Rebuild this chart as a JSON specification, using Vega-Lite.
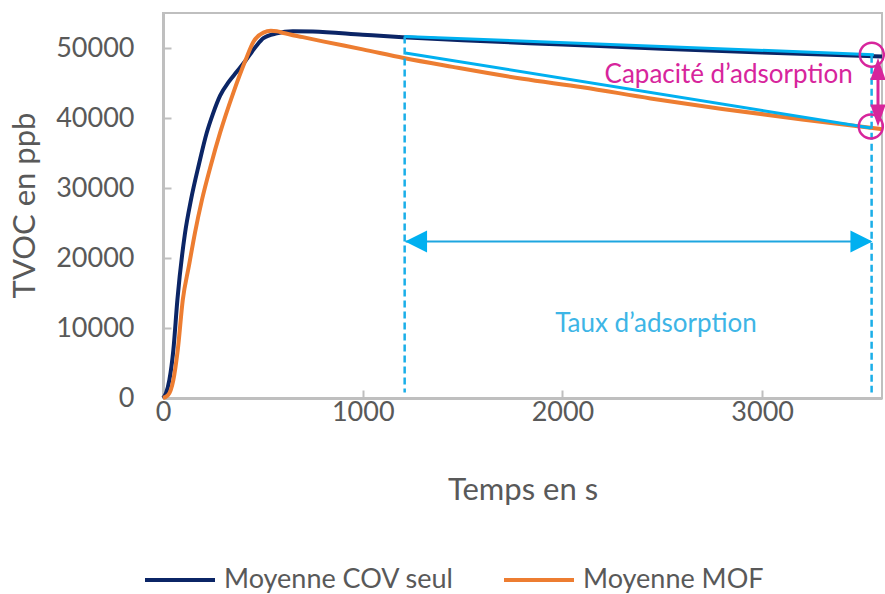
{
  "$schema": "https://vega.github.io/schema/vega-lite/v6.json",
  "width": 719,
  "height": 385,
  "autosize": {"type": "none"},
  "padding": {"left": 163, "top": 13, "right": 3, "bottom": 196},
  "background": "white",
  "config": {
    "font": "Lato",
    "view": {"stroke": "#bfbfbf", "strokeWidth": 2},
    "axis": {
      "grid": false,
      "domainColor": "#bfbfbf",
      "domainWidth": 3,
      "tickColor": "#bfbfbf",
      "tickWidth": 2,
      "tickSize": -8,
      "labelFlush": false,
      "labelFontSize": 27,
      "labelColor": "#595959",
      "titleFontSize": 31,
      "titleColor": "#595959",
      "titleFontWeight": "normal"
    }
  },
  "datasets": {
    "curves": [
      {"t": 0, "v": 0, "serie": "Moyenne COV seul"},
      {"t": 15, "v": 700, "serie": "Moyenne COV seul"},
      {"t": 32, "v": 2600, "serie": "Moyenne COV seul"},
      {"t": 52, "v": 6900, "serie": "Moyenne COV seul"},
      {"t": 72, "v": 14000, "serie": "Moyenne COV seul"},
      {"t": 110, "v": 23500, "serie": "Moyenne COV seul"},
      {"t": 140, "v": 28300, "serie": "Moyenne COV seul"},
      {"t": 180, "v": 33400, "serie": "Moyenne COV seul"},
      {"t": 219, "v": 37900, "serie": "Moyenne COV seul"},
      {"t": 250, "v": 40600, "serie": "Moyenne COV seul"},
      {"t": 286, "v": 43200, "serie": "Moyenne COV seul"},
      {"t": 330, "v": 45200, "serie": "Moyenne COV seul"},
      {"t": 369, "v": 46600, "serie": "Moyenne COV seul"},
      {"t": 411, "v": 48100, "serie": "Moyenne COV seul"},
      {"t": 436, "v": 49100, "serie": "Moyenne COV seul"},
      {"t": 470, "v": 50400, "serie": "Moyenne COV seul"},
      {"t": 503, "v": 51400, "serie": "Moyenne COV seul"},
      {"t": 570, "v": 52100, "serie": "Moyenne COV seul"},
      {"t": 650, "v": 52400, "serie": "Moyenne COV seul"},
      {"t": 750, "v": 52350, "serie": "Moyenne COV seul"},
      {"t": 1000, "v": 51900, "serie": "Moyenne COV seul"},
      {"t": 1200, "v": 51550, "serie": "Moyenne COV seul"},
      {"t": 1500, "v": 51100, "serie": "Moyenne COV seul"},
      {"t": 2000, "v": 50500, "serie": "Moyenne COV seul"},
      {"t": 2500, "v": 49900, "serie": "Moyenne COV seul"},
      {"t": 3000, "v": 49350, "serie": "Moyenne COV seul"},
      {"t": 3600, "v": 48800, "serie": "Moyenne COV seul"},
      {"t": 0, "v": 0, "serie": "Moyenne MOF"},
      {"t": 25, "v": 400, "serie": "Moyenne MOF"},
      {"t": 52, "v": 2600, "serie": "Moyenne MOF"},
      {"t": 74, "v": 6900, "serie": "Moyenne MOF"},
      {"t": 99, "v": 14000, "serie": "Moyenne MOF"},
      {"t": 130, "v": 18900, "serie": "Moyenne MOF"},
      {"t": 160, "v": 23600, "serie": "Moyenne MOF"},
      {"t": 195, "v": 28300, "serie": "Moyenne MOF"},
      {"t": 240, "v": 33300, "serie": "Moyenne MOF"},
      {"t": 286, "v": 37900, "serie": "Moyenne MOF"},
      {"t": 352, "v": 43600, "serie": "Moyenne MOF"},
      {"t": 411, "v": 48100, "serie": "Moyenne MOF"},
      {"t": 453, "v": 50900, "serie": "Moyenne MOF"},
      {"t": 503, "v": 52200, "serie": "Moyenne MOF"},
      {"t": 540, "v": 52450, "serie": "Moyenne MOF"},
      {"t": 570, "v": 52400, "serie": "Moyenne MOF"},
      {"t": 603, "v": 52150, "serie": "Moyenne MOF"},
      {"t": 700, "v": 51550, "serie": "Moyenne MOF"},
      {"t": 800, "v": 50950, "serie": "Moyenne MOF"},
      {"t": 1000, "v": 49800, "serie": "Moyenne MOF"},
      {"t": 1205, "v": 48570, "serie": "Moyenne MOF"},
      {"t": 1450, "v": 47300, "serie": "Moyenne MOF"},
      {"t": 1800, "v": 45600, "serie": "Moyenne MOF"},
      {"t": 2100, "v": 44400, "serie": "Moyenne MOF"},
      {"t": 2441, "v": 42800, "serie": "Moyenne MOF"},
      {"t": 2800, "v": 41300, "serie": "Moyenne MOF"},
      {"t": 3200, "v": 39800, "serie": "Moyenne MOF"},
      {"t": 3600, "v": 38400, "serie": "Moyenne MOF"}
    ],
    "cyanLines": [
      {"t": 1208, "v": 51660, "t2": 3559, "v2": 49040},
      {"t": 1213, "v": 49290, "t2": 3544, "v2": 38570}
    ],
    "dashLines": [
      {"t": 1210, "v": 51660, "t2": 1210, "v2": 800},
      {"t": 3548, "v": 48900, "t2": 3548, "v2": 800}
    ],
    "arrowLine": [
      {"t": 1215, "v": 22370, "t2": 3545, "v2": 22370}
    ],
    "pinkLine": [
      {"t": 3580, "v": 47000, "t2": 3580, "v2": 40360}
    ],
    "cyanHeads": [
      {"t": 1267, "v": 22370, "dir": "left"},
      {"t": 3497, "v": 22370, "dir": "right"}
    ],
    "pinkHeads": [
      {"t": 3580, "v": 47000, "dir": "up"},
      {"t": 3580, "v": 40360, "dir": "down"}
    ],
    "circles": [
      {"t": 3549, "v": 49040},
      {"t": 3544, "v": 38800}
    ],
    "labelTaux": [
      {"t": 2468, "v": 10610, "txt": "Taux d’adsorption"}
    ],
    "labelCap": [
      {"t": 2832, "v": 46190, "txt": "Capacité d’adsorption"}
    ]
  },
  "encoding": {
    "x": {
      "field": "t",
      "type": "quantitative",
      "scale": {"domain": [0, 3600], "nice": false, "zero": false},
      "axis": {
        "values": [0, 1000, 2000, 3000],
        "format": "d",
        "title": "Temps en s",
        "labelPadding": 9,
        "titleY": 92,
        "titleBaseline": "middle"
      }
    },
    "y": {
      "field": "v",
      "type": "quantitative",
      "scale": {"domain": [0, 55000], "nice": false, "zero": false},
      "axis": {
        "values": [0, 10000, 20000, 30000, 40000, 50000],
        "format": "d",
        "title": "TVOC  en ppb",
        "labelPadding": 37,
        "titleX": -138,
        "titleY": 192,
        "titleAngle": 270,
        "titleAlign": "center",
        "titleBaseline": "middle"
      }
    }
  },
  "layer": [
    {
      "data": {"name": "curves"},
      "mark": {"type": "line", "strokeWidth": 4, "interpolate": "monotone"},
      "encoding": {
        "color": {
          "field": "serie",
          "type": "nominal",
          "scale": {"domain": ["Moyenne COV seul", "Moyenne MOF"], "range": ["#0b2566", "#ed7d31"]},
          "legend": {
            "orient": "none",
            "legendX": -20,
            "legendY": 530,
            "direction": "horizontal",
            "title": null,
            "padding": 0,
            "offset": 0,
            "symbolType": "stroke",
            "symbolSize": 4900,
            "symbolStrokeWidth": 4,
            "labelFontSize": 27,
            "labelLimit": 500,
            "labelColor": "#595959",
            "labelOffset": 7,
            "columnPadding": 42
          }
        }
      }
    },
    {
      "data": {"name": "cyanLines"},
      "mark": {"type": "rule", "color": "#00b0f0", "strokeWidth": 3},
      "encoding": {"x2": {"field": "t2"}, "y2": {"field": "v2"}}
    },
    {
      "data": {"name": "dashLines"},
      "mark": {"type": "rule", "color": "#1aaee8", "strokeWidth": 2.5, "strokeDash": [7, 4]},
      "encoding": {"x2": {"field": "t2"}, "y2": {"field": "v2"}}
    },
    {
      "data": {"name": "arrowLine"},
      "mark": {"type": "rule", "color": "#1ea6e0", "strokeWidth": 2},
      "encoding": {"x2": {"field": "t2"}, "y2": {"field": "v2"}}
    },
    {
      "data": {"name": "cyanHeads"},
      "mark": {"type": "point", "filled": true, "color": "#00b0f0", "opacity": 1, "size": 484},
      "encoding": {
        "shape": {
          "field": "dir",
          "type": "nominal",
          "scale": {"domain": ["left", "right", "up", "down"], "range": ["M-1,0L1,-1L1,1Z", "M1,0L-1,-1L-1,1Z", "M0,-1L0.7,1L-0.7,1Z", "M0,1L0.7,-1L-0.7,-1Z"]},
          "legend": null
        }
      }
    },
    {
      "data": {"name": "pinkLine"},
      "mark": {"type": "rule", "color": "#d7259c", "strokeWidth": 3},
      "encoding": {"x2": {"field": "t2"}, "y2": {"field": "v2"}}
    },
    {
      "data": {"name": "pinkHeads"},
      "mark": {"type": "point", "filled": true, "color": "#d7259c", "opacity": 1, "size": 484},
      "encoding": {
        "shape": {
          "field": "dir",
          "type": "nominal",
          "scale": {"domain": ["left", "right", "up", "down"], "range": ["M-1,0L1,-1L1,1Z", "M1,0L-1,-1L-1,1Z", "M0,-1L0.7,1L-0.7,1Z", "M0,1L0.7,-1L-0.7,-1Z"]},
          "legend": null
        }
      }
    },
    {
      "data": {"name": "circles"},
      "mark": {"type": "point", "shape": "circle", "filled": false, "color": "#d7259c", "strokeWidth": 2.5, "opacity": 1, "size": 576}
    },
    {
      "data": {"name": "labelTaux"},
      "mark": {"type": "text", "font": "Lato", "fontSize": 26, "color": "#3db5e6", "align": "center", "baseline": "middle"},
      "encoding": {"text": {"field": "txt"}}
    },
    {
      "data": {"name": "labelCap"},
      "mark": {"type": "text", "font": "Lato", "fontSize": 26, "color": "#d7259c", "align": "center", "baseline": "middle"},
      "encoding": {"text": {"field": "txt"}}
    }
  ]
}
